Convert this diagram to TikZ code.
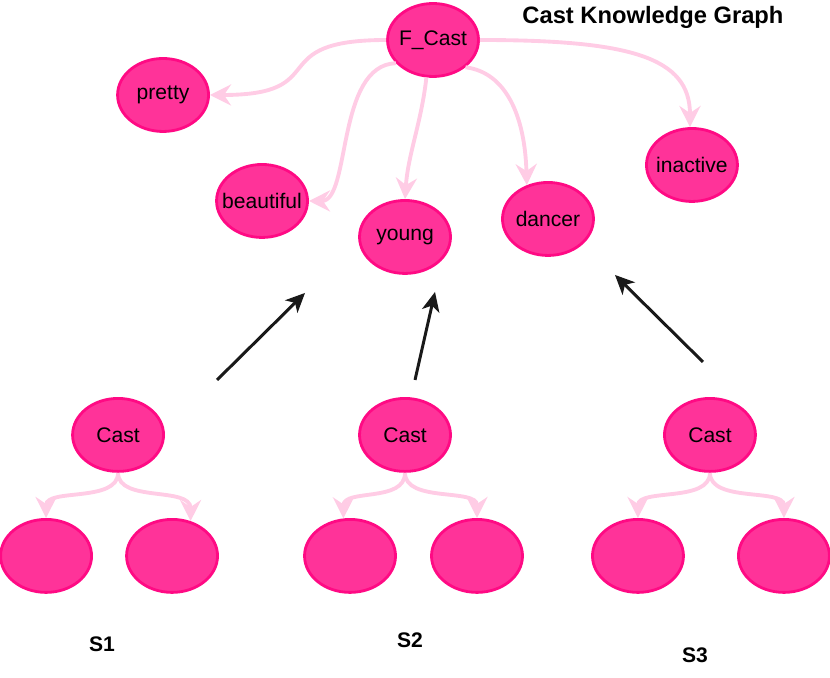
\documentclass[tikz,border=0pt]{standalone}
\usepackage{fontspec}
\setmainfont{Liberation Sans}
\usetikzlibrary{arrows.meta, positioning}
\definecolor{castFill}{HTML}{FF3399}
\definecolor{castLine}{HTML}{FF0A84}
\definecolor{linkPink}{HTML}{FFCCE5}
\tikzset{
  kgNode/.style = {draw=castLine, fill=castFill, ellipse, line width=1.6pt,
     minimum width=1.82cm, minimum height=1.46cm, inner ysep=0pt, inner xsep=-4.5pt,
     font=\fontsize{12}{14}\selectfont},
  kgLink/.style = {draw=linkPink, line width=2.2pt,
     -{Stealth[length=12pt,width=12pt,inset=4pt]}},
  voteArrow/.style = {draw=black!90, line width=1.7pt,
     -{Stealth[length=11pt,width=10pt,inset=3pt]}},
  setLabel/.style = {font=\fontsize{12}{14}\selectfont\bfseries}
}
\usetikzlibrary{shapes.geometric}
\begin{document}
\begin{tikzpicture}[x=0.02cm, y=-0.02cm, on grid]
  \useasboundingbox (0,0) rectangle (830,678);

  % the shared graph
  \node[kgNode] (fcast) at (433,40) {F\_Cast};
  \node[kgNode, below left=1.10cm and 5.40cm of fcast] (pretty) {pretty};
  \node[kgNode, below left=3.22cm and 3.42cm of fcast] (beautiful) {beautiful};
  \node[kgNode, below left=3.94cm and 0.56cm of fcast] (young) {young};
  \node[kgNode, below right=3.58cm and 2.30cm of fcast] (dancer) {dancer};
  \node[kgNode, below right=2.50cm and 5.18cm of fcast] (inactive) {inactive};
  \node[setLabel, font=\fontsize{13.5}{16}\selectfont\bfseries,
        above right=0.46cm and 4.40cm of fcast] (title) {Cast Knowledge Graph};

  % the three sub graphs
  \node[kgNode, below=3.96cm of young] (castB) {Cast};
  \node[kgNode, left=5.74cm of castB] (castA) {Cast};
  \node[kgNode, right=6.10cm of castB] (castC) {Cast};
  \node[kgNode, below left=2.42cm and 1.44cm of castA] (leafAl) {};
  \node[kgNode, below right=2.42cm and 1.08cm of castA] (leafAr) {};
  \node[kgNode, below left=2.42cm and 1.10cm of castB] (leafBl) {};
  \node[kgNode, below right=2.42cm and 1.44cm of castB] (leafBr) {};
  \node[kgNode, below left=2.42cm and 1.44cm of castC] (leafCl) {};
  \node[kgNode, below right=2.42cm and 1.48cm of castC] (leafCr) {};
  \node[setLabel, below left=4.18cm and 0.32cm of castA] (setA) {S1};
  \node[setLabel, below right=4.10cm and 0.10cm of castB] (setB) {S2};
  \node[setLabel, below left=4.40cm and 0.30cm of castC] (setC) {S3};

  % free ends of the black arrows
  \coordinate[above right=1.10cm and 1.98cm of castA] (tailA);
  \coordinate[above right=1.10cm and 0.20cm of castB] (tailB);
  \coordinate[above left=1.46cm and 0.14cm of castC] (tailC);
  \coordinate[below left=1.12cm and 2.00cm of young] (headA);
  \coordinate[below right=1.10cm and 0.60cm of young] (headB);
  \coordinate[below right=1.12cm and 1.34cm of dancer] (headC);

  % pink links
  \draw[kgLink] (fcast.west) .. controls +(-125,0) and +(125,0) .. (pretty.east);
  \draw[kgLink] (fcast.212) .. controls +(-60,2) and +(42,0) .. (beautiful.east);
  \draw[kgLink] (fcast.260) .. controls +(-5,45) and +(3,-45) .. (young.north);
  \draw[kgLink] (fcast.-40) .. controls +(40,5) and +(-2,-70) .. (dancer.122);
  \draw[kgLink] (fcast.east) .. controls +(150,0) and +(0,-70) .. (inactive.93);
  \draw[kgLink] (castA.south) .. controls +(0,30) and +(0,-30) .. (leafAl.north);
  \draw[kgLink] (castA.south) .. controls +(0,30) and +(0,-35) .. (leafAr.62);
  \draw[kgLink] (castB.south) .. controls +(0,30) and +(0,-30) .. (leafBl.100);
  \draw[kgLink] (castB.south) .. controls +(0,30) and +(0,-30) .. (leafBr.north);
  \draw[kgLink] (castC.south) .. controls +(0,30) and +(0,-30) .. (leafCl.north);
  \draw[kgLink] (castC.south) .. controls +(0,30) and +(0,-30) .. (leafCr.north);

  % black arrows
  \draw[voteArrow] (tailA) -- (headA);
  \draw[voteArrow] (tailB) -- (headB);
  \draw[voteArrow] (tailC) -- (headC);
\end{tikzpicture}
\end{document}
